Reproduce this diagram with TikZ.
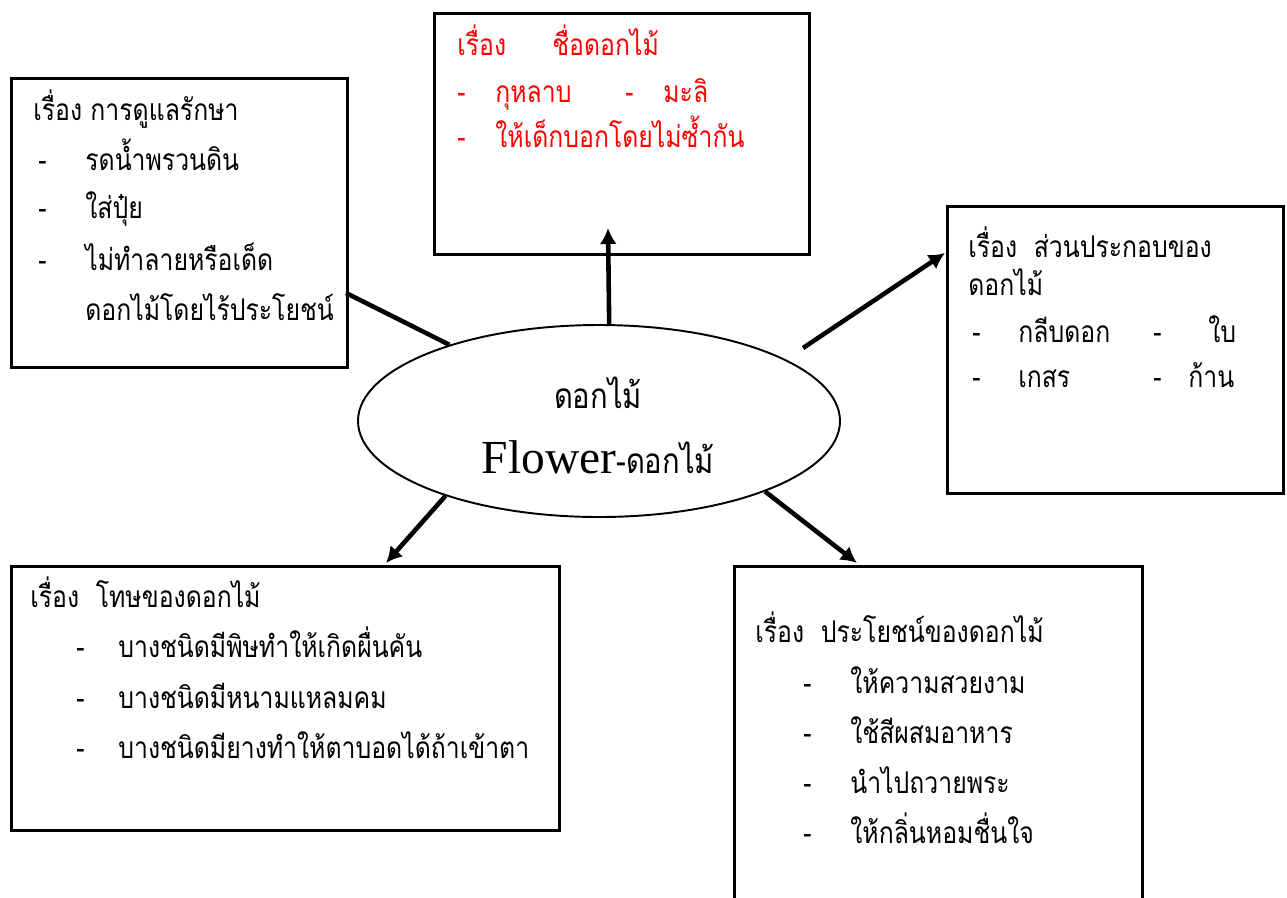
\documentclass[tikz,border=0pt]{standalone}
\usepackage{fontspec}
\setmainfont{Liberation Serif}
\newfontfamily\thaifont[Script=Thai,FakeStretch=0.83]{Loma}
\usepackage{tikz}
\usetikzlibrary{arrows.meta}
\usetikzlibrary{shapes}
\newcommand{\topicbox}[5]{\node[topic,minimum width={(#4-#2)*0.02cm},minimum height={(#5-#3)*0.02cm}] (#1) at (#2,#3) {};}
\tikzset{
  topic/.style={draw,line width=1.5pt,inner sep=0pt,anchor=north west},
  linetext/.style={anchor=base west,inner sep=0pt,font=\thaifont\fontsize{17}{20}\selectfont},
  conn/.style={line width=2.6pt},
  tip/.style={-{Latex[length=0.32cm,width=0.34cm]}}
}

\begin{document}
\begin{tikzpicture}[x=0.02cm,y=-0.02cm]
\useasboundingbox (0,0) rectangle (1287,897);
\clip (0,0) rectangle (1287,897);
% the five topic boxes
\topicbox{care}{10}{77}{346}{366}
\topicbox{names}{433}{12}{808}{253}
\topicbox{parts}{946}{205}{1282}{492}
\topicbox{harm}{10}{565}{558}{829}
\topicbox{use}{733}{565}{1141}{905}
% centre
\node[draw,ellipse,line width=1.1pt,minimum width=482*0.02cm,minimum height=192*0.02cm] (flower) at (599,421) {};
\node[anchor=base,inner sep=0pt,font=\thaifont\fontsize{20}{24}\selectfont] (flowerth) at (598,408) {ดอกไม้};
\node[anchor=base,inner sep=0pt,font=\fontsize{27}{32}\selectfont] (floweren) at (598,473) {Flower{\thaifont\fontsize{20}{24}\selectfont -ดอกไม้}};
% care box text
\node[linetext] (care1) at (33,120) {เรื่อง การดูแลรักษา};
\foreach \n/\y/\t in {2/170/รดน้ำพรวนดิน,3/218/ใส่ปุ๋ย,4/270/ไม่ทำลายหรือเด็ด}{
  \node[linetext] (cared\n) at (38,\y) {-};
  \node[linetext] (care\n) at (85,\y) {\t};
}
\node[linetext] (care5) at (85,320) {ดอกไม้โดยไร้ประโยชน์};
% names box text (red)
\node[linetext,red] (names1) at (457,55) {เรื่อง};
\node[linetext,red] (names1b) at (552,55) {ชื่อดอกไม้};
\node[linetext,red] (namesd2) at (457,102) {-};
\node[linetext,red] (names2) at (495,102) {กุหลาบ};
\node[linetext,red] (namesd2b) at (625,102) {-};
\node[linetext,red] (names2b) at (663,102) {มะลิ};
\node[linetext,red] (namesd3) at (457,147) {-};
\node[linetext,red] (names3) at (495,147) {ให้เด็กบอกโดยไม่ซ้ำกัน};
% parts box text
\node[linetext] (parts1) at (968,257) {เรื่อง\ \ ส่วนประกอบของ};
\node[linetext] (parts2) at (968,295) {ดอกไม้};
\node[linetext] (partsd3) at (972,342) {-};
\node[linetext] (parts3) at (1018,342) {กลีบดอก};
\node[linetext] (partsd3b) at (1153,342) {-};
\node[linetext] (parts3b) at (1208,342) {ใบ};
\node[linetext] (partsd4) at (972,387) {-};
\node[linetext] (parts4) at (1018,387) {เกสร};
\node[linetext] (partsd4b) at (1153,387) {-};
\node[linetext] (parts4b) at (1188,387) {ก้าน};
% harm box text
\node[linetext] (harm1) at (30,607) {เรื่อง\ \ โทษของดอกไม้};
\foreach \n/\y/\t in {2/657/บางชนิดมีพิษทำให้เกิดผื่นคัน,3/708/บางชนิดมีหนามแหลมคม,4/758/บางชนิดมียางทำให้ตาบอดได้ถ้าเข้าตา}{
  \node[linetext] (harmd\n) at (76,\y) {-};
  \node[linetext] (harm\n) at (118,\y) {\t};
}
% use box text
\node[linetext] (use1) at (755,642) {เรื่อง\ \ ประโยชน์ของดอกไม้};
\foreach \n/\y/\t in {2/693/ให้ความสวยงาม,3/743/ใช้สีผสมอาหาร,4/793/นำไปถวายพระ,5/843/ให้กลิ่นหอมชื่นใจ}{
  \node[linetext] (used\n) at (803,\y) {-};
  \node[linetext] (use\n) at (850,\y) {\t};
}
% connectors
\coordinate (careend) at (346,293);
\coordinate (namestip) at (608,228);
\coordinate (partsstart) at (803,348);
\coordinate (partstip) at (945,253);
\coordinate (harmtip) at (386,563);
\coordinate (usetip) at (857,563);
\draw[conn] (flower.153.6) -- (careend);
\draw[conn,tip] (flower.84.6) -- (namestip);
\draw[conn,tip] (partsstart) -- (partstip);
\draw[conn,tip] (flower.206.9) -- (harmtip);
\draw[conn,tip] (flower.337.1) -- (usetip);
\end{tikzpicture}
\end{document}
